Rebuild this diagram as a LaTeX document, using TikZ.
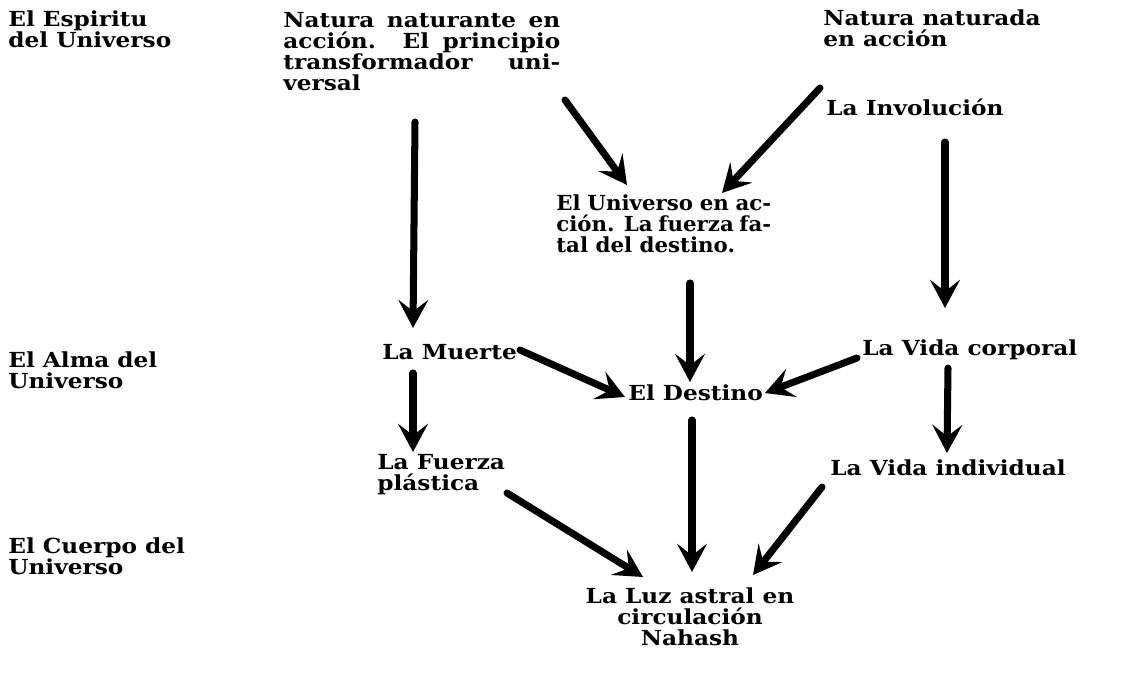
\documentclass[tikz,border=0pt]{standalone}
\usepackage{fontspec}
\setmainfont{DejaVu Serif}[FakeStretch=1.12]
\newfontfamily\tightfont{DejaVu Serif}[FakeStretch=1.03]
\usetikzlibrary{arrows.meta, calc}
\hyphenpenalty=10000

\begin{document}
\begin{tikzpicture}[x=0.02cm, y=-0.02cm, line join=round,
    lbl/.style={inner sep=0pt, anchor=north west, align=left,
                font=\fontsize{11.8}{12}\selectfont\bfseries},
    jst/.style={lbl, align=justify},
    ar/.style={-{Stealth[length=16pt, width=17pt, inset=6.5pt]}, line width=4pt, line cap=round}]
  \useasboundingbox (0,0) rectangle (1134,677);
  % left column
  \node[lbl] (esp)    at (8,10)  {El Espiritu\\del Universo};
  \node[lbl] (alma)   at (8,351) {El Alma del\\Universo};
  \node[lbl] (cuerpo) at (8,537) {El Cuerpo del\\Universo};
  % the diagram
  \node[jst, text width=5.54cm] (nnte) at (283,12)
    {Natura naturante en\linebreak acción. El principio\linebreak transformador uni-\linebreak versal};
  \node[lbl] (nnda) at (823,9) {Natura naturada\\en acción};
  \node[lbl] (invo) at (826,99) {La Involución};
  \node[jst, text width=4.3cm, font=\fontsize{11.8}{12}\selectfont\tightfont\bfseries] (univ) at (556,194)
    {El Universo en ac-\linebreak ción. La fuerza fa-\linebreak tal del destino.};
  \node[lbl] (muerte)  at (382,344) {La Muerte};
  \node[lbl] (destino) at (628,384) {El Destino};
  \node[lbl] (vidac)   at (862,339) {La Vida corporal};
  \node[lbl] (fuerza)  at (377,454) {La Fuerza\\plástica};
  \node[lbl] (vidai)   at (830,459) {La Vida individual};
  \node[lbl, anchor=north, align=center] (luz) at (690,587)
    {La Luz astral en\\circulación\\Nahash};
  % arrows
  \draw[ar] ($(nnte.north west)+(132,110)$) -- ($(muerte.north west)+(31,-16)$);
  \draw[ar] ($(nnte.north west)+(282,88)$) -- ($(univ.north west)+(71,-9)$);
  \draw[ar] ($(nnda.north west)+(-3,79)$) -- ($(univ.north west)+(166,-1)$);
  \draw[ar] ($(invo.north west)+(119,43)$) -- ($(vidac.north west)+(83,-31)$);
  \draw[ar] ($(univ.north west)+(134,89)$) -- ($(destino.north west)+(62,-2)$);
  \draw[ar] ($(muerte.north west)+(138,6)$) -- ($(destino.north west)+(-3,13)$);
  \draw[ar] ($(vidac.north west)+(-5,19)$) -- ($(destino.north west)+(137,9)$);
  \draw[ar] ($(muerte.north west)+(31,29)$) -- ($(fuerza.north west)+(36,-2)$);
  \draw[ar] ($(vidac.north west)+(86,29)$) -- ($(vidai.north west)+(117,-6)$);
  \draw[ar] ($(destino.north west)+(64,36)$) -- ($(luz.north)+(2,-15)$);
  \draw[ar] ($(fuerza.north west)+(130,39)$) -- ($(luz.north)+(-47,-10)$);
  \draw[ar] ($(vidai.north west)+(-8,28)$) -- ($(luz.north)+(63,-12)$);
\end{tikzpicture}
\end{document}
